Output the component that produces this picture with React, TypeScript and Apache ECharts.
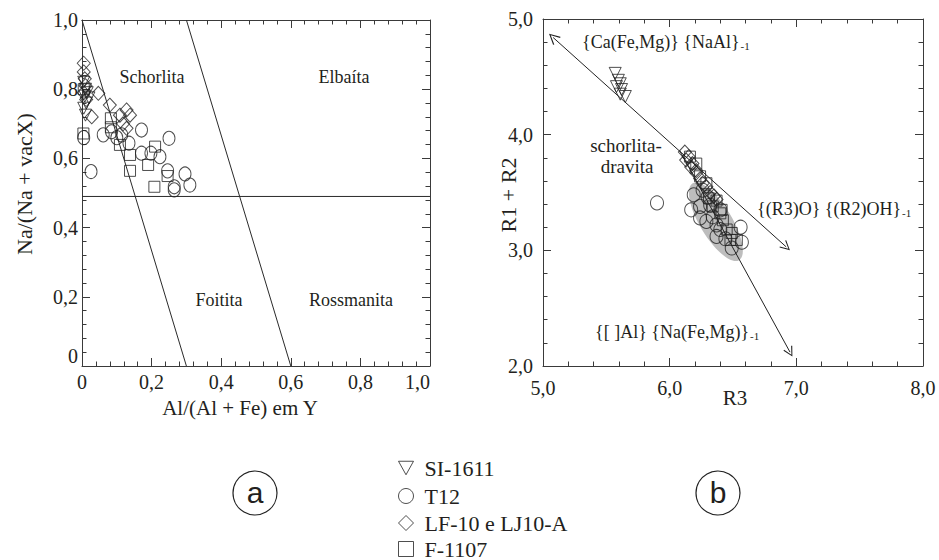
import React, { useEffect, useRef } from "react";
import * as echarts from "echarts";

// ---------- Data ----------
const seriesNames = ["SI-1611", "T12", "LF-10 e LJ10-A", "F-1107"];

// Plot (a): Al/(Al+Fe) em Y  vs  Na/(Na+vacX)
const aTriangles = [
  [0.005, 0.82], [0.01, 0.8], [0.008, 0.78], [0.012, 0.76], [0.005, 0.745],
  [0.015, 0.79], [0.02, 0.775], [0.01, 0.725],
];
const aCircles = [
  [0.005, 0.66], [0.026, 0.562], [0.061, 0.668], [0.085, 0.677], [0.114, 0.668],
  [0.171, 0.682], [0.25, 0.658], [0.135, 0.644], [0.171, 0.615], [0.198, 0.615],
  [0.224, 0.605], [0.246, 0.564], [0.296, 0.555], [0.31, 0.523], [0.265, 0.518],
  [0.265, 0.509], [0.1, 0.66],
];
const aDiamonds = [
  [0.005, 0.875], [0.005, 0.85], [0.008, 0.83], [0.01, 0.81], [0.005, 0.79],
  [0.012, 0.77], [0.047, 0.788], [0.028, 0.72], [0.08, 0.754], [0.109, 0.725],
  [0.128, 0.74], [0.138, 0.725], [0.128, 0.687], [0.118, 0.7],
];
const aSquares = [
  [0.004, 0.672], [0.083, 0.716], [0.083, 0.69], [0.109, 0.639], [0.138, 0.61],
  [0.21, 0.634], [0.19, 0.581], [0.138, 0.564], [0.246, 0.549], [0.208, 0.518],
  [0.005, 0.8],
];
const aBoundary1 = [[0, 1], [0.3, 0]];
const aBoundary2 = [[0.3, 1], [0.6, 0]];
const aBoundaryH = [[0, 0.49], [1, 0.49]];

// Plot (b): R3 vs R1 + R2
const bTriangles = [
  [5.57, 4.53], [5.595, 4.47], [5.61, 4.44], [5.58, 4.415], [5.62, 4.39],
  [5.65, 4.33], [5.61, 4.35],
];
const bCircles = [
  [5.9, 3.41], [6.19, 3.48], [6.17, 3.35], [6.24, 3.38], [6.26, 3.52],
  [6.3, 3.46], [6.24, 3.28], [6.29, 3.25], [6.34, 3.29], [6.37, 3.22],
  [6.4, 3.18], [6.37, 3.12], [6.44, 3.1], [6.56, 3.2], [6.57, 3.07],
  [6.49, 3.02], [6.32, 3.39], [6.4, 3.35],
];
const bDiamonds = [
  [6.12, 3.85], [6.15, 3.81], [6.13, 3.78], [6.18, 3.75], [6.17, 3.72],
  [6.21, 3.69], [6.21, 3.67], [6.26, 3.58], [6.24, 3.62], [6.32, 3.5],
  [6.37, 3.44], [6.29, 3.55], [6.35, 3.47],
];
const bSquares = [
  [6.16, 3.81], [6.21, 3.75], [6.24, 3.64], [6.29, 3.58], [6.37, 3.43],
  [6.34, 3.38], [6.4, 3.32], [6.42, 3.26], [6.45, 3.18], [6.49, 3.15],
  [6.53, 3.09], [6.48, 3.09], [6.41, 3.35], [6.31, 3.45],
];
const bArrowMain = [[5.08, 4.84], [6.92, 3.03]];
const bArrowLower = [[6.08, 3.86], [6.95, 2.12]];
const bEllipseAxis = [[6.19, 3.565, 6.54, 2.93]];

const aTicksX = { min: 0, max: 1, interval: 0.2 };
const bTicksX = { min: 5, max: 8, interval: 1 };
const bTicksY = { min: 2, max: 5, interval: 1 };

// ---------- Styles ----------
const SERIF = "Liberation Serif";
const SANS = "Liberation Sans";
const INK = "#231f20";
const AXIS = "#3a3a3a";
const ARROW = "path://M5,0 L10,10 L9,10.6 L5,2.2 L1,10.6 L0,10 Z";
const DOWN_TRI = "path://M0,0 L10,0 L5,9 Z";
const legendIcons = [DOWN_TRI, "circle", "diamond", "rect"];
const legendTops = [457, 485, 512, 538];

const fmtA = (v: number) => (Math.abs(v) < 1e-9 ? "0" : v.toFixed(1).replace(".", ","));
const fmtB = (v: number) => v.toFixed(1).replace(".", ",");

function axis(
  gridIndex: number,
  range: { min: number; max: number; interval: number },
  position: string,
  labels: boolean,
  fmt: (v: number) => string,
  margin: number,
  extra: any = {}
) {
  return {
    type: "value",
    gridIndex,
    position,
    min: range.min,
    max: range.max,
    interval: range.interval,
    axisLine: { show: true, onZero: false, lineStyle: { color: AXIS, width: 1 } },
    axisTick: { show: true, inside: true, length: 8, lineStyle: { color: AXIS } },
    minorTick: { show: true, splitNumber: 5, length: 4.5, lineStyle: { color: AXIS } },
    splitLine: { show: false },
    minorSplitLine: { show: false },
    axisLabel: {
      show: labels,
      formatter: fmt,
      fontFamily: SERIF,
      fontSize: 20,
      color: INK,
      margin,
      ...extra,
    },
  };
}

const scatterBase = (name: string, data: number[][], xi: number, yi: number, symbol: string, size: any, rotate = 0) => ({
  type: "scatter",
  name,
  data,
  xAxisIndex: xi,
  yAxisIndex: yi,
  symbol,
  symbolSize: size,
  symbolRotate: rotate,
  z: 4,
  itemStyle: { color: "rgba(0,0,0,0)", borderColor: "#222", borderWidth: 1 },
  emphasis: { disabled: true },
});

const lineBase = (data: number[][]) => ({
  type: "line",
  data,
  xAxisIndex: 0,
  yAxisIndex: 0,
  symbol: "none",
  z: 2,
  lineStyle: { color: "#2a2a2a", width: 1 },
  silent: true,
});

const arrowLines = (coords: number[][], symbols: string[]) => ({
  type: "lines",
  coordinateSystem: "cartesian2d",
  xAxisIndex: 2,
  yAxisIndex: 2,
  z: 3,
  symbol: symbols,
  symbolSize: [11, 10],
  lineStyle: { color: "#222", width: 1, opacity: 1 },
  data: [{ coords }],
  silent: true,
});

const txt = (x: number, y: number, text: string, size = 18, extra: any = {}) => ({
  type: "text",
  x,
  y,
  z: 10,
  style: {
    text,
    fontFamily: SERIF,
    fontSize: size,
    fill: INK,
    align: "center",
    verticalAlign: "middle",
    ...extra,
  },
});

const subRich = {
  sub: { fontFamily: SERIF, fontSize: 11, fill: INK, verticalAlign: "bottom", lineHeight: 12, padding: [0, 0, 0, 1] },
};

export default function App() {
  const ref = useRef<HTMLDivElement>(null);

  useEffect(() => {
    if (!ref.current) return;
    const chart = echarts.init(ref.current, undefined, { renderer: "svg" });
    const option: any = {
      animation: false,
      backgroundColor: "#fff",
      textStyle: { fontFamily: SERIF },
      grid: [
        { left: 82, top: 20, width: 348, height: 346 },
        { left: 543, top: 19, width: 380, height: 347 },
      ],
      xAxis: [
        axis(0, aTicksX, "bottom", true, fmtA, 6, { alignMaxLabel: "right" }),
        axis(0, aTicksX, "top", false, fmtA, 6),
        axis(1, bTicksX, "bottom", true, fmtB, 12),
        axis(1, bTicksX, "top", false, fmtB, 12),
      ],
      yAxis: [
        axis(0, aTicksX, "left", true, fmtA, 4, { verticalAlignMinLabel: "bottom" }),
        axis(0, aTicksX, "right", false, fmtA, 4),
        axis(1, bTicksY, "left", true, fmtB, 10),
        axis(1, bTicksY, "right", false, fmtB, 10),
      ],
      legend: seriesNames.map((name, i) => ({
        data: [{ name, icon: legendIcons[i] }],
        orient: "vertical",
        left: 398,
        top: legendTops[i],
        padding: 0,
        itemWidth: 15,
        itemHeight: 15,
        selectedMode: false,
        itemStyle: { color: "rgba(0,0,0,0)", borderColor: "#222", borderWidth: 1 },
        textStyle: { fontFamily: SERIF, fontSize: 22, color: INK, lineHeight: 22, padding: [0, 0, 0, 6] },
      })),
      series: [
        lineBase(aBoundary1),
        lineBase(aBoundary2),
        lineBase(aBoundaryH),
        {
          type: "custom",
          xAxisIndex: 2,
          yAxisIndex: 2,
          z: 1,
          silent: true,
          data: bEllipseAxis,
          dimensions: ["x1", "y1", "x2", "y2"],
          encode: { x: [0, 2], y: [1, 3] },
          renderItem: (params: any, api: any) => {
            const p1 = api.coord([api.value(0), api.value(1)]);
            const p2 = api.coord([api.value(2), api.value(3)]);
            const dx = p2[0] - p1[0];
            const dy = p2[1] - p1[1];
            const len = Math.sqrt(dx * dx + dy * dy);
            return {
              type: "ellipse",
              x: (p1[0] + p2[0]) / 2,
              y: (p1[1] + p2[1]) / 2,
              rotation: -Math.atan2(dy, dx),
              shape: { cx: 0, cy: 0, rx: len / 2 + 2, ry: 16 },
              style: { fill: "#bdbdbd" },
            };
          },
        },
        arrowLines(bArrowMain, [ARROW, ARROW]),
        arrowLines(bArrowLower, ["none", ARROW]),
        scatterBase(seriesNames[0], aTriangles, 0, 0, "triangle", [12, 12], 180),
        scatterBase(seriesNames[1], aCircles, 0, 0, "circle", [12, 14]),
        scatterBase(seriesNames[2], aDiamonds, 0, 0, "diamond", [13, 14]),
        scatterBase(seriesNames[3], aSquares, 0, 0, "rect", [11, 11]),
        scatterBase(seriesNames[0], bTriangles, 2, 2, "triangle", [12, 12], 180),
        scatterBase(seriesNames[1], bCircles, 2, 2, "circle", [13, 14]),
        scatterBase(seriesNames[2], bDiamonds, 2, 2, "diamond", [13, 14]),
        scatterBase(seriesNames[3], bSquares, 2, 2, "rect", [11, 11]),
      ],
      graphic: [
        // axis titles
        { ...txt(24, 184, "Na/(Na + vacX)", 22), rotation: Math.PI / 2 },
        txt(240, 408, "Al/(Al + Fe) em Y", 21),
        txt(735, 398, "R3", 21),
        { ...txt(508, 195, "R1 + R2", 22), rotation: Math.PI / 2 },
        // field names (a)
        txt(152, 77, "Schorlita", 18),
        txt(344, 77, "Elbaíta", 18),
        txt(219, 300, "Foitita", 18),
        txt(351, 300, "Rossmanita", 18),
        // annotations (b)
        txt(582, 42, "{Ca(Fe,Mg)} {NaAl}{sub|-1}", 18, { align: "left", rich: subRich }),
        txt(626, 145, "schorlita-", 19),
        txt(627, 166, "dravita", 19),
        txt(757, 209, "{(R3)O} {(R2)OH}{sub|-1}", 18, { align: "left", rich: subRich }),
        txt(595, 332, "{[ ]Al} {Na(Fe,Mg)}{sub|-1}", 18, { align: "left", rich: subRich }),
        // panel letters
        { type: "circle", shape: { cx: 255, cy: 493, r: 22 }, style: { fill: "none", stroke: "#222", lineWidth: 1.2 } },
        { type: "circle", shape: { cx: 718, cy: 493, r: 22 }, style: { fill: "none", stroke: "#222", lineWidth: 1.2 } },
        txt(255, 492, "a", 30, { fontFamily: SANS }),
        txt(718, 492, "b", 30, { fontFamily: SANS }),
      ],
    };
    chart.setOption(option);
    return () => chart.dispose();
  }, []);

  return (
    <div
      ref={ref}
      style={{ position: "fixed", left: 0, top: 0, width: 939, height: 560, background: "#fff" }}
    />
  );
}
